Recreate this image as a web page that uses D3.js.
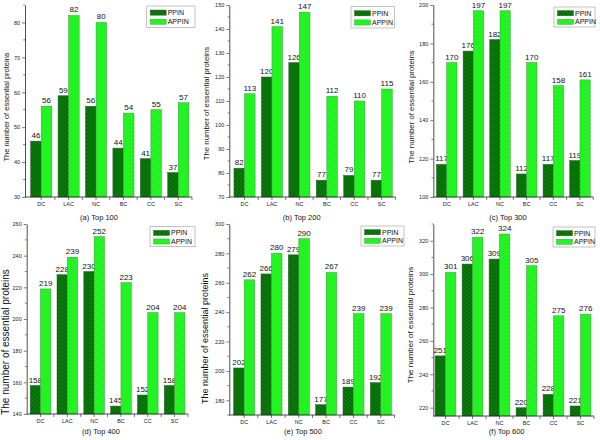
<!DOCTYPE html>
<html><head><meta charset="utf-8">
<script src="https://cdn.jsdelivr.net/npm/d3@7"></script>
<style>
html,body{margin:0;padding:0;background:#fff;}
svg{display:block;font-family:"Liberation Sans",Arial,sans-serif;}
</style></head>
<body>
<svg id="chart" width="600" height="440"></svg>
<script>
// ---- data ----
const categories = ["DC","LAC","NC","BC","CC","SC"];
const seriesNames = ["PPIN","APPIN"];
const panelTitles = ["(a) Top 100","(b) Top 200","(c) Top 300","(d) Top 400","(e) Top 500","(f) Top 600"];
const ppinTop100 = [46,59,56,44,41,37];
const appinTop100 = [56,82,80,54,55,57];
const ppinTop200 = [82,120,126,77,79,77];
const appinTop200 = [113,141,147,112,110,115];
const ppinTop300 = [117,176,182,112,117,119];
const appinTop300 = [170,197,197,170,158,161];
const ppinTop400 = [158,228,230,145,152,158];
const appinTop400 = [219,239,252,223,204,204];
const ppinTop500 = [202,266,279,177,189,192];
const appinTop500 = [262,280,290,267,239,239];
const ppinTop600 = [251,306,309,220,228,221];
const appinTop600 = [301,322,324,305,275,276];
const yDomains = [[30,85],[70,150],[100,200],[140,260],[170,300],[215,330]];
const yTicksA = [30,40,50,60,70,80];
const yTicksB = [70,80,90,100,110,120,130,140,150];
const yTicksC = [100,120,140,160,180,200];
const yTicksD = [140,160,180,200,220,240,260];
const yTicksE = [180,200,220,240,260,280,300];
const yTicksF = [220,240,260,280,300,320];
const yLabel = "The number of essential proteins";

// ---- layout (positions / styles) ----
const layout = [
  {axisX:25,   band:[27.5,192],   y:[197,5],   leg:[146.7,6,48.3,21.3], title:[99,220],  yl:[6,107,7.5]},
  {axisX:229.3,band:[230.8,395.4],y:[197,5],   leg:[351,6.7,43.5,21.3], title:[301.7,220],yl:[206,103.5,7.8]},
  {axisX:433.3,band:[433.4,593.3],y:[197,5],   leg:[554,7,41,20],       title:[508,220], yl:[411,107,7.8]},
  {axisX:26.7, band:[27.1,188],   y:[414,224], leg:[150,226.7,45,20],   title:[101,434], yl:[5,342,10]},
  {axisX:229.3,band:[230.5,394.5],y:[415,224], leg:[361,226,43,20],     title:[303,434], yl:[205,338.5,9]},
  {axisX:433.3,band:[432,594],    y:[416,224], leg:[553,227,42,20],     title:[506.7,434],yl:[410,325,8]}
];
const panels = [
  [ppinTop100, appinTop100, yTicksA],
  [ppinTop200, appinTop200, yTicksB],
  [ppinTop300, appinTop300, yTicksC],
  [ppinTop400, appinTop400, yTicksD],
  [ppinTop500, appinTop500, yTicksE],
  [ppinTop600, appinTop600, yTicksF]
];
const fills = ["#0a7a0a","#1efc1e"];
const hatch = ["#005000","#3cc83c"];
const strokes = ["#2c5e2c","#3a9a3a"];

const svg = d3.select("#chart");
const defs = svg.append("defs");
// PPIN: "\" hatch; APPIN: "/" hatch
const pathsH = ["M-1,3 L1,5 M0,0 L4,4 M3,-1 L5,1", "M-1,1 L1,-1 M0,4 L4,0 M3,5 L5,3"];
seriesNames.forEach((s,i)=>{
  const p = defs.append("pattern").attr("id","pat"+i).attr("width",4).attr("height",4)
    .attr("patternUnits","userSpaceOnUse");
  p.append("rect").attr("width",4).attr("height",4).attr("fill",fills[i]);
  p.append("path").attr("d",pathsH[i]).attr("stroke",hatch[i]).attr("stroke-width",0.7);
});

panels.forEach((pd,pi)=>{
  const L = layout[pi];
  const [pp, ap, ticks] = pd;
  const g = svg.append("g");
  const x = d3.scaleBand().domain(categories).range(L.band).paddingInner(0.23).paddingOuter(0.115);
  const xs = d3.scaleBand().domain(seriesNames).range([0,x.bandwidth()]);
  const y = d3.scaleLinear().domain(yDomains[pi]).range(L.y);

  // bars
  const rows = categories.map((c,k)=>({c, v:[pp[k], ap[k]]}));
  const cg = g.selectAll("g.cat").data(rows).join("g").attr("transform",d=>`translate(${x(d.c)},0)`);
  seriesNames.forEach((s,si)=>{
    cg.append("rect").attr("x",xs(s)).attr("width",xs.bandwidth())
      .attr("y",d=>y(d.v[si])).attr("height",d=>y(yDomains[pi][0])-y(d.v[si]))
      .attr("fill",`url(#pat${si})`).attr("stroke",strokes[si]).attr("stroke-width",0.5);
    cg.append("text").attr("x",xs(s)+xs.bandwidth()/2).attr("y",d=>y(d.v[si])-3)
      .attr("text-anchor","middle").attr("font-size",8).attr("fill","#111").text(d=>d.v[si]);
  });

  // y axis
  const yAxis = d3.axisLeft(y).tickValues(ticks).tickSize(3).tickPadding(2).tickSizeOuter(0);
  const ya = g.append("g").attr("transform",`translate(${L.axisX},0)`).call(yAxis);
  ya.selectAll("text").attr("font-size",5.5).attr("fill","#222").attr("font-family","Liberation Sans,Arial,sans-serif");
  ya.selectAll("line").attr("stroke","#222").attr("stroke-width",0.6);
  ya.select(".domain").attr("stroke","#222").attr("stroke-width",0.8);
  const step = ticks[1]-ticks[0];
  const minor = [];
  for(let v=ticks[0]-step/2; v<=yDomains[pi][1]; v+=step){ if(v>=yDomains[pi][0]) minor.push(v); }
  g.selectAll("line.mn").data(minor).join("line").attr("x1",L.axisX-1.8).attr("x2",L.axisX)
    .attr("y1",d=>y(d)).attr("y2",d=>y(d)).attr("stroke","#222").attr("stroke-width",0.6);

  // x axis
  const y0 = y(yDomains[pi][0]);
  const xa = g.append("g").attr("transform",`translate(0,${y0})`)
    .call(d3.axisBottom(x).tickSize(3).tickPadding(2.5).tickSizeOuter(0));
  xa.select(".domain").remove();
  xa.selectAll("text").attr("font-size",5.5).attr("fill","#222").attr("font-family","Liberation Sans,Arial,sans-serif");
  xa.selectAll("line").attr("stroke","#222").attr("stroke-width",0.6);
  g.append("line").attr("x1",L.axisX).attr("x2",L.band[1]).attr("y1",y0).attr("y2",y0)
    .attr("stroke","#222").attr("stroke-width",0.8);
  const bounds = categories.slice(1).map(c=>x(c)-x.step()*x.paddingInner()/2).concat([L.band[1]]);
  g.selectAll("line.xb").data(bounds).join("line").attr("x1",d=>d).attr("x2",d=>d)
    .attr("y1",y0).attr("y2",y0+3).attr("stroke","#222").attr("stroke-width",0.6);

  // y label
  g.append("text").attr("transform",`translate(${L.yl[0]},${L.yl[1]}) rotate(-90)`)
    .attr("text-anchor","middle").attr("dominant-baseline","central")
    .attr("font-size",L.yl[2]).attr("fill","#111").text(yLabel);

  // title
  g.append("text").attr("x",L.title[0]).attr("y",L.title[1]).attr("text-anchor","middle")
    .attr("font-size",7.5).attr("fill","#111").text(panelTitles[pi]);

  // legend
  const [lx,ly,lw,lh] = L.leg;
  g.append("rect").attr("x",lx).attr("y",ly).attr("width",lw).attr("height",lh)
    .attr("fill","#fff").attr("stroke","#9a9a9a").attr("stroke-width",0.6);
  seriesNames.forEach((s,si)=>{
    const cy = ly + lh*(si===0?0.31:0.74);
    g.append("rect").attr("x",lx+3.5).attr("y",cy-2.6).attr("width",16).attr("height",5.2)
      .attr("fill",`url(#pat${si})`).attr("stroke",strokes[si]).attr("stroke-width",0.4);
    g.append("text").attr("x",lx+21).attr("y",cy).attr("dominant-baseline","central")
      .attr("font-size",7).attr("fill","#111").text(s);
  });
});
</script>
</body></html>
